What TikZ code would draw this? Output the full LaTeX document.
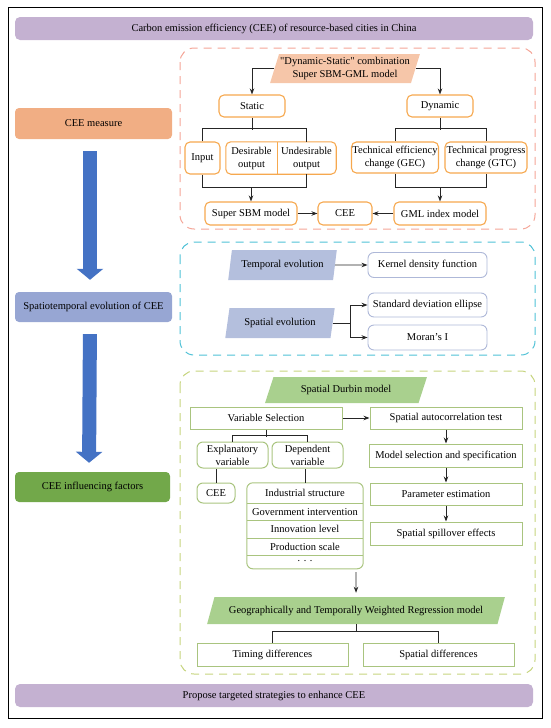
\documentclass[tikz,border=0pt]{standalone}
\usepackage{fontspec}
\setmainfont{Liberation Serif}[Ligatures=TeXOff]
\usetikzlibrary{positioning}
\usetikzlibrary{shapes.geometric}
\usetikzlibrary{arrows.meta}

\definecolor{ocol}{HTML}{F6A84E}
\definecolor{ofill}{HTML}{F6C6A9}
\definecolor{ofr}{HTML}{F4A597}
\definecolor{bfr}{HTML}{4FC1D6}
\definecolor{gfr}{HTML}{C6D47E}
\definecolor{bfill}{HTML}{B4BFDD}
\definecolor{bcol}{HTML}{AEB8D8}
\definecolor{gfill}{HTML}{A9D08E}
\definecolor{gcol}{HTML}{A9C47F}
\definecolor{measurecol}{HTML}{F1AE84}
\definecolor{spatiocol}{HTML}{97A6D3}
\definecolor{factorcol}{HTML}{72A84A}
\definecolor{barcol}{HTML}{C4B1D1}
\definecolor{arrblue}{HTML}{4472C4}

\tikzstyle{topbar} = [fill=barcol, rounded corners=5pt, minimum width=518pt, minimum height=23pt]
\tikzstyle{sidebox} = [rounded corners=4pt, minimum width=157pt, minimum height=30pt]
\tikzstyle{bigarrow} = [line width=14pt, draw=arrblue, -{Triangle[width=26pt,length=11pt]}]
\tikzstyle{secframe} = [line width=1pt, dash pattern=on 8pt off 6pt, rounded corners=14pt]
\tikzstyle{flowline} = [line width=0.9pt, draw=black!85]
\tikzstyle{obox} = [draw=ocol, line width=1.1pt, rounded corners=5pt, align=center, inner sep=1pt]
\tikzstyle{para} = [trapezium, trapezium stretches=true, align=center, inner sep=1pt]
\tikzstyle{bbox} = [draw=bcol, line width=0.9pt, rounded corners=6pt, inner sep=1pt, minimum width=119pt]
\tikzstyle{gbox} = [draw=gcol, line width=1pt, align=center, inner sep=1pt]
\tikzstyle{lrow} = [minimum width=116pt, minimum height=17pt, inner sep=0pt]

\begin{document}
\begin{tikzpicture}[x=1pt, y=-1pt, >={Stealth[length=6pt,width=4.5pt]},
    font=\fontsize{10.5}{13}\selectfont]
  \useasboundingbox (0,0) rectangle (550,728);
  \draw[line width=1pt] (8,7) rectangle (542,718);

  % top and bottom bars
  \node[topbar] (title) at (274,28.5) {Carbon emission efficiency (CEE) of resource-based cities in China};
  \node[topbar] (strat) at (274,695.5) {Propose targeted strategies to enhance CEE};

  % left column
  \node[sidebox, fill=measurecol, minimum height=31pt] (measure) at (93.5,123.5) {CEE measure};
  \node[sidebox, fill=spatiocol] (spatio) at (93.5,307) {Spatiotemporal evolution of CEE};
  \node[sidebox, fill=factorcol, minimum width=155pt] (factors) at (92.5,487) {CEE influencing factors};
  \draw[bigarrow, shorten <=12pt, shorten >=12pt] ([xshift=-3.5pt]measure.south) -- ([xshift=-3.5pt]spatio.north);
  \draw[bigarrow, shorten <=12pt, shorten >=9pt] ([xshift=-3.5pt]spatio.south) -- ([xshift=-3.5pt]factors.north);

  % section frames
  \draw[secframe, draw=ofr] (180,48) rectangle (535,229);
  \draw[secframe, draw=bfr] (180,242) rectangle (535,355);
  \draw[secframe, draw=gfr] (180,371) rectangle (535,674);

  % CEE measure
  \node[para, fill=ofill, trapezium left angle=70, trapezium right angle=110,
        minimum width=150pt, minimum height=29pt] (combo) at (345,68.5)
        {"Dynamic-Static" combination\\Super SBM-GML model};
  \node[obox, minimum width=66pt, minimum height=22pt] (static) at (252,106) {Static};
  \node[obox, minimum width=66pt, minimum height=22pt] (dynamic) at (440,106) {Dynamic};
  \node[obox, minimum width=35pt, minimum height=32pt] (input) at (202.5,158) {Input};
  \node[align=center, inner sep=0pt, minimum width=51pt, minimum height=32pt] (desir) at (251.5,158) {Desirable\\output};
  \node[align=center, inner sep=0pt, minimum width=59pt, minimum height=32pt] (undes) at (306.5,158) {Undesirable\\output};
  \draw[ocol, line width=1.1pt, rounded corners=5pt] (desir.north west) rectangle (undes.south east);
  \draw[ocol, line width=1.1pt] (desir.north east) -- (desir.south east);
  \node[obox, minimum width=86pt, minimum height=31pt] (gec) at (395,157.5) {Technical efficiency\\change (GEC)};
  \node[obox, minimum width=82pt, minimum height=31pt] (gtc) at (486,157.5) {Technical progress\\change (GTC)};
  \node[obox, minimum width=92pt, minimum height=23pt] (sbm) at (251,213.5) {Super SBM model};
  \node[obox, minimum width=54pt, minimum height=23pt] (cee) at (345,213.5) {CEE};
  \node[obox, minimum width=92pt, minimum height=23pt] (gml) at (440,213.5) {GML index model};
  \coordinate (sj) at (251,187);
  \coordinate (dj) at (440,187);

  \draw[flowline, ->] (combo.west) -| (static.north);
  \draw[flowline, ->] (combo.east) -| (dynamic.north);
  \draw[flowline] (static.south) -- ++(0,12);
  \draw[flowline] (input.north) -- ++(0,-13) -| (undes.north);
  \draw[flowline] (input.south) -- ++(0,13) -| (undes.south);
  \draw[flowline, ->] (sj) -- (sbm.north);
  \draw[flowline] (dynamic.south) -- ++(0,12);
  \draw[flowline] (gec.north) -- ++(0,-13) -| (gtc.north);
  \draw[flowline] (gec.south) -- ++(0,14) -| (gtc.south);
  \draw[flowline, ->] (dj) -- (gml.north);
  \draw[flowline, ->] (sbm) -- (cee);
  \draw[flowline, ->] (gml) -- (cee);

  % spatiotemporal evolution
  \node[para, fill=bfill, trapezium left angle=75, trapezium right angle=105,
        minimum width=109pt, minimum height=30pt] (temporal) at (282.5,265) {Temporal evolution};
  \node[para, fill=bfill, trapezium left angle=75, trapezium right angle=105,
        minimum width=110pt, minimum height=30pt] (spatial) at (280,323) {Spatial evolution};
  \node[bbox, minimum height=25pt] (kernel) at (427.5,265) {Kernel density function};
  \node[bbox, minimum height=24pt] (sde) at (427.5,305) {Standard deviation ellipse};
  \node[bbox, minimum height=25pt] (moran) at (427.5,337.5) {Moran’s I};

  \draw[flowline, ->] (temporal.east) -- (kernel.west);
  \draw[flowline, ->] (spatial.east) -- ++(18,0) |- (sde.west);
  \draw[flowline, ->] (spatial.east) -- ++(18,0) |- (moran.west);

  % influencing factors
  \node[para, fill=gfill, trapezium left angle=65, trapezium right angle=115,
        minimum width=162pt, minimum height=26pt] (sdm) at (346,390) {Spatial Durbin model};
  \node[gbox, minimum width=152pt, minimum height=22pt] (varsel) at (266,418) {Variable Selection};
  \node[gbox, minimum width=152pt, minimum height=22pt] (autoc) at (446,418) {Spatial autocorrelation test};
  \node[gbox, rounded corners=6pt, minimum width=71pt, minimum height=26pt] (explan) at (232.5,455) {Explanatory\\variable};
  \node[gbox, rounded corners=6pt, minimum width=71pt, minimum height=26pt] (depend) at (307.5,455) {Dependent\\variable};
  \node[gbox, rounded corners=6pt, minimum width=38pt, minimum height=20pt] (cee2) at (216,493) {CEE};
  \node[lrow, minimum height=20pt] (ind) at (305,493) {Industrial structure};
  \node[lrow, below=0pt of ind] (gov) {Government intervention};
  \node[lrow, below=0pt of gov] (innov) {Innovation level};
  \node[lrow, below=0pt of innov] (prod) {Production scale};
  \node[lrow, minimum height=13pt, below=0pt of prod] (dots) {· · ·};
  \draw[gcol, line width=1pt, rounded corners=6pt] (ind.north west) rectangle (dots.south east);
  \draw[gcol, line width=1pt] (ind.south west) -- (ind.south east);
  \draw[gcol, line width=1pt] (gov.south west) -- (gov.south east);
  \draw[gcol, line width=1pt] (innov.south west) -- (innov.south east);
  \draw[gcol, line width=1pt] (prod.south west) -- (prod.south east);
  \node[gbox, minimum width=153pt, minimum height=23pt] (msel) at (446,455.5) {Model selection and specification};
  \node[gbox, minimum width=152pt, minimum height=22pt] (pest) at (446,494) {Parameter estimation};
  \node[gbox, minimum width=152pt, minimum height=23pt] (spill) at (446,533.5) {Spatial spillover effects};
  \node[para, fill=gfill, trapezium left angle=60, trapezium right angle=120,
        minimum width=298pt, minimum height=27pt] (gtwr) at (356,610.5)
        {Geographically and Temporally Weighted Regression model};
  \node[gbox, minimum width=151pt, minimum height=23pt] (timing) at (272.5,654.5) {Timing differences};
  \node[gbox, minimum width=151pt, minimum height=23pt] (sdiff) at (438.5,654.5) {Spatial differences};
  \coordinate (lj) at (356,572);

  \draw[flowline, ->] (varsel) -- (autoc);
  \draw[flowline] (varsel.south) -- ++(0,7);
  \draw[flowline] (explan.north) -- ++(0,-6) -| (depend.north);
  \draw[flowline] (cee2.north) -- (cee2.north |- explan.south);
  \draw[flowline] (ind.north) -- (ind.north |- depend.south);
  \draw[flowline, ->] (autoc) -- (msel);
  \draw[flowline, ->] (msel) -- (pest);
  \draw[flowline, ->] (pest) -- (spill);
  \draw[flowline, ->, shorten >=4pt] (lj) -- (gtwr.north);
  \draw[flowline] (gtwr.south) -- ++(0,8);
  \draw[flowline] (timing.north) -- ++(0,-11) -| (sdiff.north);
\end{tikzpicture}
\end{document}
